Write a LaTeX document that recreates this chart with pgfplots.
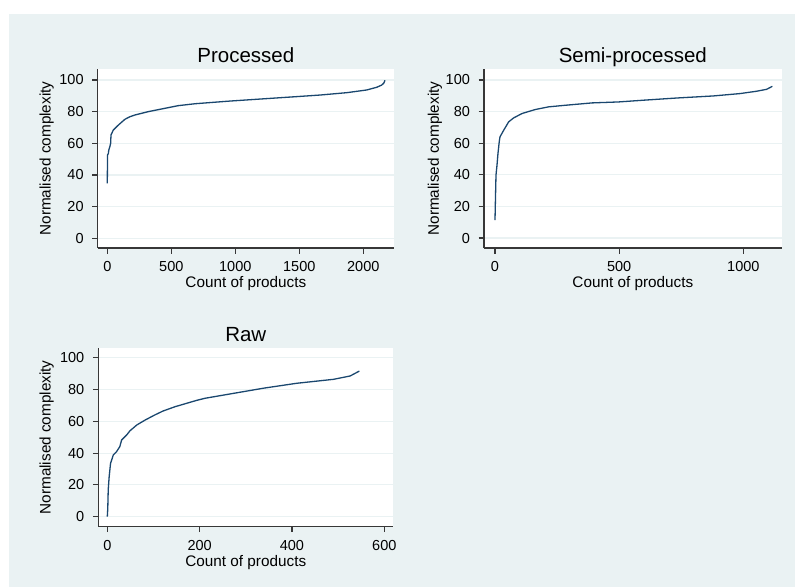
\documentclass[border=0pt]{standalone}
\usepackage{fontspec}
\setmainfont{Liberation Sans}
\usepackage{pgfplots}
\pgfplotsset{compat=1.18}
\definecolor{bg}{RGB}{234,242,243}
\definecolor{gridc}{RGB}{234,242,243}
\definecolor{navy}{RGB}{26,71,111}
\definecolor{axc}{RGB}{55,55,55}
\pgfplotsset{
 stata/.style={
  scale only axis,
  anchor=south west,
  axis lines*=left,
  axis line style={axc, line width=1.1pt},
  axis background/.style={fill=white},
  ytick={0,20,...,100},
  ymajorgrids,
  grid style={gridc, line width=1.1pt},
  tick align=outside,
  major tick length=5.5pt,
  tick style={axc, line width=1.1pt},
  minor tick num=0,
  /pgf/number format/assume math mode=true,
  /pgf/number format/1000 sep={},
  scaled ticks=false,
  tick label style={font=\fontsize{14.5}{16}\selectfont, text=black},
  yticklabel style={anchor=east, inner sep=0pt, xshift=-8.4pt},
  xticklabel style={anchor=base, inner sep=0pt, yshift=-18pt},
  ylabel={Normalised complexity},
  xlabel={Count of products},
  label style={font=\fontsize{15.3}{17}\selectfont, text=black},
  xlabel style={anchor=base, inner sep=0pt},
  ylabel style={anchor=center},
  every axis title shift=0pt,
  title style={anchor=base, font=\fontsize{20.5}{22}\selectfont, text=black},
 },
 curve/.style={navy, line width=1.3pt, no marks},
}
\begin{document}
\begin{tikzpicture}[x=1pt,y=1pt]
\path[use as bounding box] (0,0) rectangle (795,587);
\fill[bg] (9,0) rectangle (795,573);

% Processed
\begin{axis}[stata,
  at={(97.7pt,339pt)}, width=296.3pt, height=179pt,
  xmin=-75, xmax=2240, ymin=-6.13, ymax=106.95,
  xtick={0,500,...,2000},
  title={Processed},
  title style={at={(axis description cs:0.5,1.035)}},
  xlabel style={at={(axis description cs:0.5,-0.22)}},
  ylabel style={at={(axis description cs:-0.172,0.5)}},
]
\addplot[curve] coordinates {
(0,34.7) (1,45) (2,52.6) (8,53.5) (12,55.8) (20,57.9) (26,60) (29,65.3)
(47,68.4) (86,71.5) (138,75.2) (177,76.8) (216,77.9) (320,80.0) (425,81.7)
(555,83.8) (685,85.0) (959,86.7) (1200,88.0) (1480,89.5) (1662,90.5)
(1872,92.0) (2027,93.7) (2105,95.4) (2144,96.8) (2160,98) (2170,99.8)
};
\end{axis}

% Semi-processed
\begin{axis}[stata,
  at={(484pt,339pt)}, width=297.7pt, height=179pt,
  xmin=-44.3, xmax=1154.6, ymin=-6.3, ymax=106.95,
  xtick={0,500,1000},
  title={Semi-processed},
  title style={at={(axis description cs:0.5,1.035)}},
  xlabel style={at={(axis description cs:0.5,-0.22)}},
  ylabel style={at={(axis description cs:-0.165,0.5)}},
]
\addplot[curve] coordinates {
(0,11.4) (2,26.1) (4,39.8) (8,46) (12,53.5) (17,60.8) (20,64) (35,68.2)
(55,73.5) (75,76) (109,78.8) (162,81.3) (216,83) (283,84) (391,85.5)
(497,86.1) (597,87.2) (732,88.6) (879,89.9) (987,91.4) (1054,92.9)
(1094,94.1) (1117,96)
};
\end{axis}

% Raw
\begin{axis}[stata,
  at={(98.3pt,60.3pt)}, width=295pt, height=178.7pt,
  xmin=-19.5, xmax=619.5, ymin=-6.3, ymax=106.1,
  xtick={0,200,400,600},
  title={Raw},
  title style={at={(axis description cs:0.5,1.035)}},
  xlabel style={at={(axis description cs:0.5,-0.221)}},
  ylabel style={at={(axis description cs:-0.175,0.5)}},
]
\addplot[curve] coordinates {
(0,0) (1,5) (2,16.8) (4,25) (7,33.5) (13,38.8) (20,40.9) (27,44) (31,48.2)
(42,51.4) (49,54) (64,57.7) (82,60.8) (103,64) (121,66.5) (147,69.2) (194,73.2)
(212,74.5) (266,77.2) (338,80.8) (410,83.9) (490,86.4) (526,88.5) (546,91.6)
};
\end{axis}
\end{tikzpicture}
\end{document}
